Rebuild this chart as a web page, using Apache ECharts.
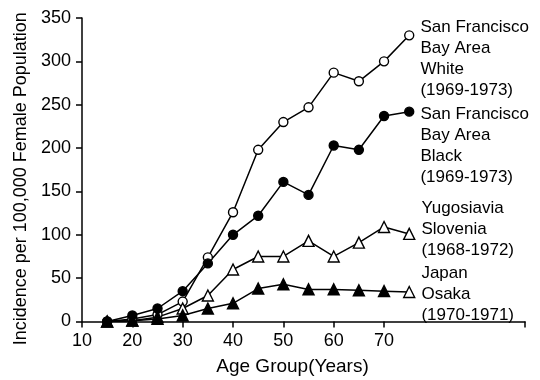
<!DOCTYPE html>
<html><head><meta charset="utf-8">
<script src="https://cdn.jsdelivr.net/npm/echarts@6/dist/echarts.min.js"></script>
<style>html,body{margin:0;padding:0;background:#fff}#c{width:540px;height:380px}</style>
</head><body><div id="c"></div>
<script>
const ages = [15,20,25,30,35,40,45,50,55,60,65,70,75];
const sfWhite = [0,3,8,23,74,126,198,230,247,287,277,300,330];
const sfBlack = [0,7,15,35,67,100,122,161,146,203,198,237,242];
const yugoslavia = [0,1,5,15,30,60,75,75,93,75,91,109,101];
const japan = [0,1,3,7,15,21,38,43,37,37,36,35,34];
const seriesNames = ['San Francisco\nBay Area\nWhite\n(1969-1973)','San Francisco\nBay Area\nBlack\n(1969-1973)','Yugosiavia\nSlovenia\n(1968-1972)','Japan\nOsaka\n(1970-1971)'];
const xTicks = [10,20,30,40,50,60,70,98];
const xLabels = [10,20,30,40,50,60,70];
const yTicks = [0,50,100,150,200,250,300,350];

const FONT = "'Liberation Sans Narrow','Arial Narrow','Liberation Sans',Arial,sans-serif";
const chart = echarts.init(document.getElementById('c'), null, {renderer:'canvas'});

function mk(name, vals, symbol, filled, labelOffset, lastOpen){
  return {
    name: name, type:'line', symbol: symbol, symbolSize: symbol==='circle'?9:11,
    lineStyle:{color:'#000', width:1.5},
    itemStyle:{color: filled?'#000':'#fff', borderColor:'#000', borderWidth:1.4},
    z: 3,
    data: vals.map((v,i)=>{
      const d = {value:[ages[i], v]};
      if (i === vals.length-1){
        d.label = {show:true, position:'right', distance:6, offset:[0,labelOffset],
          formatter: name, color:'#000', fontFamily:FONT, fontSize:17, lineHeight:21, align:'left'};
        if (lastOpen) d.itemStyle = {color:'#fff'};
      }
      return d;
    })
  };
}

chart.setOption({
  animation:false,
  grid:{left:82, right:15, top:18, bottom:58.5, containLabel:false, outerBoundsMode:'none'},
  xAxis:{type:'value', min:10, max:98,
    axisLine:{lineStyle:{color:'#000', width:1.5}},
    axisTick:{show:true, length:6, lineStyle:{color:'#000', width:1.5}, customValues:xTicks},
    axisLabel:{color:'#000', fontFamily:FONT, fontSize:18, margin:11, customValues:xLabels},
    splitLine:{show:false},
    name:'Age Group(Years)', nameLocation:'middle', nameGap:36,
    nameTextStyle:{color:'#000', fontFamily:FONT, fontSize:19, padding:[0,22,0,0]}
  },
  yAxis:{type:'value', min:0, max:350, interval:50,
    axisLine:{show:true, lineStyle:{color:'#000', width:1.5}},
    axisTick:{show:true, length:6, lineStyle:{color:'#000', width:1.5}},
    axisLabel:{color:'#000', fontFamily:FONT, fontSize:18, margin:11},
    splitLine:{show:false},
    name:'Incidence per 100,000 Female Population', nameLocation:'middle', nameGap:52,
    nameTextStyle:{color:'#000', fontFamily:FONT, fontSize:18, padding:[0,18,0,0]}
  },
  series:[
    mk(seriesNames[0], sfWhite, 'circle', false, 23),
    mk(seriesNames[1], sfBlack, 'circle', true, 34),
    mk(seriesNames[2], yugoslavia, 'triangle', false, -5),
    mk(seriesNames[3], japan, 'triangle', true, 2, true)
  ]
});
</script></body></html>
